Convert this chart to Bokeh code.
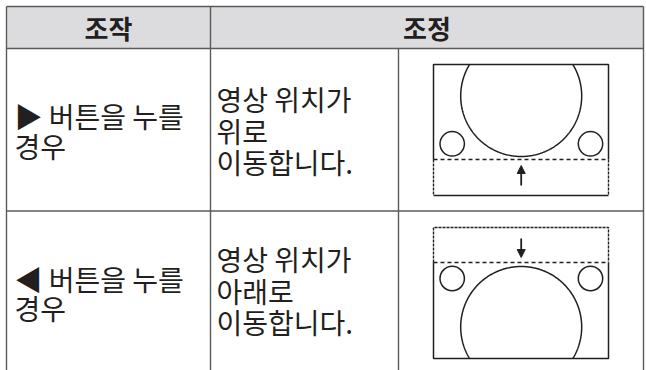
import numpy as np
from bokeh.plotting import figure
from bokeh.models import Range1d, Arrow, NormalHead
from bokeh.core.properties import value
from bokeh.embed import file_html
from bokeh.resources import INLINE

# ---- table content ----
header_labels = ["조작", "조정"]
action_lines = [["▶ 버튼을 누를", "경우"], ["◀ 버튼을 누를", "경우"]]
result_lines = [["영상 위치가", "위로", "이동합니다."], ["영상 위치가", "아래로", "이동합니다."]]
shift_dirs = ["up", "down"]

# ---- layout (reference pixel coordinates) ----
col_edges = [6, 210, 398, 643]
row_edges = [6, 48, 210.5, 420]
FONT = "Noto Sans CJK KR"
LINE_C = "#5a5a5a"
INK = "#231f20"

p = figure(width=646, height=370, output_backend="svg", toolbar_location=None,
           x_range=Range1d(0, 646), y_range=Range1d(370, 0),
           min_border=0, outline_line_color=None)
p.axis.visible = False
p.grid.visible = False
p.background_fill_color = "white"
p.border_fill_color = "white"

# header background
p.quad(left=[col_edges[0]], right=[col_edges[3]], top=[row_edges[0]], bottom=[row_edges[1]],
       fill_color="#dcdcde", line_color=None)

# table rules
xs = [[col_edges[0], col_edges[3]], [col_edges[0], col_edges[3]], [col_edges[0], col_edges[3]],
      [col_edges[0], col_edges[0]], [col_edges[1], col_edges[1]], [col_edges[2], col_edges[2]],
      [col_edges[3], col_edges[3]]]
ys = [[row_edges[0], row_edges[0]], [row_edges[1], row_edges[1]], [row_edges[2], row_edges[2]],
      [row_edges[0], row_edges[3]], [row_edges[0], row_edges[3]], [row_edges[1], row_edges[3]],
      [row_edges[0], row_edges[3]]]
p.multi_line(xs, ys, line_color=LINE_C, line_width=1.4)

# header texts
hx = [(col_edges[0] + col_edges[1]) / 2, (col_edges[1] + col_edges[3]) / 2]
p.text(x=hx, y=[27, 27], text=header_labels, text_font=value(FONT), text_font_style="bold",
       text_font_size="26px", text_align="center", text_baseline="middle", text_color=INK)

# body texts
act_y = [[115, 145], [278, 307]]
res_y = [[98, 130, 161], [258, 290, 321]]
for r in range(2):
    p.text(x=[14] * len(action_lines[r]), y=act_y[r], text=action_lines[r], text_font=value(FONT),
           text_font_size="28px", text_align="left", text_baseline="middle", text_color=INK)
    p.text(x=[216] * len(result_lines[r]), y=res_y[r], text=result_lines[r], text_font=value(FONT),
           text_font_size="28px", text_align="left", text_baseline="middle", text_color=INK)

# screen illustrations
fx0, fx1 = 433, 608
cx, R = 520.7, 60.5
sr, sxs = 12.2, [451.7, 590]
frames = [(64, 195, 159), (227, 358, 262)]
for (top, bot, dash_y), d in zip(frames, shift_dirs):
    if d == "up":
        big_cy, small_cy = dash_y - 3 - R, dash_y - 15.7
        solid = [([fx0, fx0, fx1, fx1], [dash_y, top, top, dash_y]), ([fx0, fx1], [bot, bot])]
        dashed = [([fx0, fx0], [dash_y, bot]), ([fx1, fx1], [dash_y, bot])]
        th = np.linspace(-np.pi / 2, 3 * np.pi / 2, 400)
        tail, head = bot - 10, dash_y + 6
    else:
        big_cy, small_cy = dash_y + 4 + R, dash_y + 16
        solid = [([fx0, fx0, fx1, fx1], [dash_y, bot, bot, dash_y])]
        dashed = [([fx0, fx0, fx1, fx1], [dash_y, top, top, dash_y])]
        th = np.linspace(np.pi / 2, 5 * np.pi / 2, 400)
        tail, head = top + 11, dash_y - 5
    for lx, ly in solid:
        p.line(lx, ly, line_color=INK, line_width=1.5)
    for lx, ly in dashed:
        p.line(lx, ly, line_color=INK, line_width=1.4, line_dash="3 1")
    p.line([fx0, fx1], [dash_y, dash_y], line_color=INK, line_width=1.5, line_dash="4 3")
    bx = cx + R * np.cos(th)
    by = big_cy + R * np.sin(th)
    keep = (by >= top) & (by <= bot)
    p.line(bx[keep], by[keep], line_color=INK, line_width=1.5)
    p.circle(x=sxs, y=[small_cy] * 2, radius=sr, fill_color=None, line_color=INK, line_width=1.5)
    p.add_layout(Arrow(x_start=cx, y_start=tail, x_end=cx, y_end=head, line_color=INK, line_width=1.8,
                       end=NormalHead(size=8, fill_color=INK, line_color=INK)))

open("out.html", "w").write(file_html(p, INLINE))
